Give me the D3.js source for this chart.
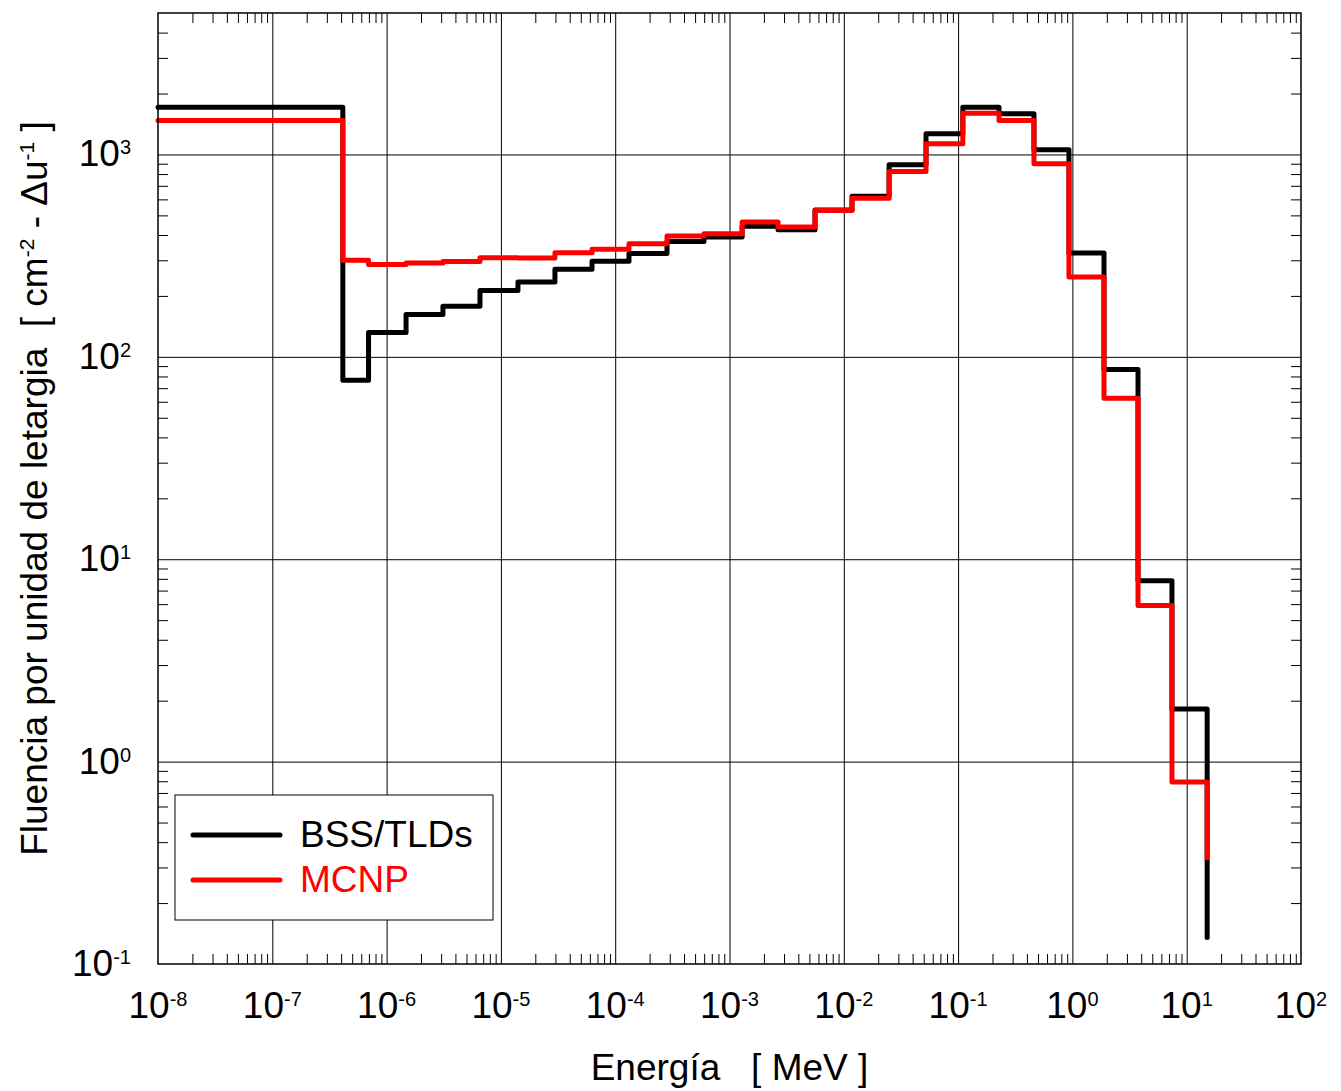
<!DOCTYPE html>
<html>
<head>
<meta charset="utf-8">
<title>Fluencia por unidad de letargia</title>
<script src="https://cdn.jsdelivr.net/npm/d3@7"></script>
<style>
  body { margin: 0; background: #fff; }
  text { font-family: "Liberation Sans", Arial, sans-serif; white-space: pre; }
</style>
</head>
<body>
<svg id="chart"></svg>
<script>
// ===========================
// 1. Data
// ===========================

// bin edges in MeV (25 bins -> 26 edges)
const energyEdges = [1e-8, 4.14e-7, 6.95e-7, 1.48e-6, 3.11e-6, 6.56e-6, 1.41e-5, 2.97e-5,
  6.27e-5, 1.32e-4, 2.84e-4, 5.98e-4, 1.29e-3, 2.66e-3, 5.6e-3, 1.18e-2, 2.49e-2,
  5.24e-2, 0.110, 0.228, 0.461, 0.933, 1.89, 3.75, 7.43, 15.1];

// fluence per bin, last value = where the final vertical drop ends
const bssValues = [1711, 76.7, 131.8, 161.8, 178, 213, 234, 271, 297, 324, 372, 391, 442,
  425, 532, 622, 890, 1265, 1711, 1588, 1055, 326, 86.7, 7.83, 1.82, 0.135];
const mcnpValues = [1472, 300, 286, 291, 296, 309, 308, 327, 340, 362, 395, 406, 464,
  438, 529, 608, 824, 1129, 1600, 1472, 899, 248, 62.4, 5.90, 0.793, 0.335];

const seriesNames = ["BSS/TLDs", "MCNP"];
const seriesColors = ["#000000", "#ff0000"];

// axis decades (exponents)
const xExponents = [-8, -7, -6, -5, -4, -3, -2, -1, 0, 1, 2];
const yExponents = [-1, 0, 1, 2, 3];

// ===========================
// 2. Layout
// ===========================
const W = 1341, H = 1091;
const plot = { left: 158, right: 1301, top: 13, bottom: 964 };
const font = "Liberation Sans, Arial, sans-serif";

const svg = d3.select("#chart")
  .attr("width", W)
  .attr("height", H);

svg.append("rect").attr("width", W).attr("height", H).attr("fill", "#fff");

const x = d3.scaleLog()
  .domain([1e-8, 1e2])
  .range([plot.left, plot.right]);

const y = d3.scaleLog()
  .domain([0.1, 5000])
  .range([plot.bottom, plot.top]);

const plotW = plot.right - plot.left,
      plotH = plot.bottom - plot.top;

// major / minor tick values
const xMajor = xExponents.map(e => Math.pow(10, e));
const yMajor = yExponents.map(e => Math.pow(10, e));
const minorOf = (majors, domain) => {
  const out = [];
  majors.forEach(m => {
    for (let k = 2; k <= 9; k++) {
      const v = m * k;
      if (v > domain[0] && v < domain[1]) out.push(v);
    }
  });
  return out;
};
const xMinor = minorOf(xMajor, x.domain());
const yMinor = minorOf([0.1, 1, 10, 100, 1000], y.domain());

// ===========================
// 3. Grid and ticks
// ===========================
const clean = g => {
  g.select(".domain").remove();
  g.selectAll(".tick line").attr("stroke", "#000").attr("stroke-width", 1);
};

// vertical gridlines
svg.append("g")
  .attr("transform", `translate(0,${plot.bottom})`)
  .call(d3.axisBottom(x).tickValues(xMajor.slice(1, -1)).tickSize(-plotH).tickFormat(""))
  .call(clean);

// horizontal gridlines
svg.append("g")
  .attr("transform", `translate(${plot.left},0)`)
  .call(d3.axisLeft(y).tickValues(yMajor.slice(1)).tickSize(-plotW).tickFormat(""))
  .call(clean);

// minor ticks, inward on all four sides
svg.append("g")
  .attr("transform", `translate(0,${plot.bottom})`)
  .call(d3.axisBottom(x).tickValues(xMinor).tickSize(-10).tickFormat(""))
  .call(clean);
svg.append("g")
  .attr("transform", `translate(0,${plot.top})`)
  .call(d3.axisTop(x).tickValues(xMinor).tickSize(-10).tickFormat(""))
  .call(clean);
svg.append("g")
  .attr("transform", `translate(${plot.left},0)`)
  .call(d3.axisLeft(y).tickValues(yMinor).tickSize(-10).tickFormat(""))
  .call(clean);
svg.append("g")
  .attr("transform", `translate(${plot.right},0)`)
  .call(d3.axisRight(y).tickValues(yMinor).tickSize(-10).tickFormat(""))
  .call(clean);

// ===========================
// 4. Step lines
// ===========================
const line = d3.line()
  .x(d => x(d[0]))
  .y(d => y(d[1]))
  .curve(d3.curveStepAfter);

[bssValues, mcnpValues].forEach((vals, i) => {
  const pts = energyEdges.map((e, j) => [e, vals[j]]);
  svg.append("path")
    .attr("d", line(pts))
    .attr("fill", "none")
    .attr("stroke", seriesColors[i])
    .attr("stroke-width", 5)
    .attr("stroke-linejoin", "round")
    .attr("stroke-linecap", "round");
});

// plot frame
svg.append("rect")
  .attr("x", plot.left)
  .attr("y", plot.top)
  .attr("width", plotW)
  .attr("height", plotH)
  .attr("fill", "none")
  .attr("stroke", "#000")
  .attr("stroke-width", 1.5);

// ===========================
// 5. Tick labels (10^n)
// ===========================
const powLabel = (sel, exp) => {
  sel.append("tspan").text("10");
  sel.append("tspan")
    .attr("dy", -12)
    .style("font-size", "20px")
    .text(exp);
};

xExponents.forEach(e => {
  const t = svg.append("text")
    .attr("x", x(Math.pow(10, e)))
    .attr("y", plot.bottom + 54)
    .attr("text-anchor", "middle")
    .style("font-size", "37px");
  powLabel(t, e);
});

yExponents.forEach(e => {
  const t = svg.append("text")
    .attr("x", plot.left - 27)
    .attr("y", y(Math.pow(10, e)) + 12)
    .attr("text-anchor", "end")
    .style("font-size", "37px");
  powLabel(t, e);
});

// ===========================
// 6. Axis titles
// ===========================
svg.append("text")
  .attr("x", (plot.left + plot.right) / 2)
  .attr("y", 1080)
  .attr("text-anchor", "middle")
  .style("font-size", "37px")
  .text("Energía   [ MeV ]");

const yTitle = svg.append("text")
  .attr("transform", `translate(47,${(plot.top + plot.bottom) / 2}) rotate(-90)`)
  .attr("text-anchor", "middle")
  .style("font-size", "37px");
yTitle.append("tspan").text("Fluencia por unidad de letargia  [ cm");
yTitle.append("tspan").attr("dy", -13).style("font-size", "21px").text("-2");
yTitle.append("tspan").attr("dy", 13).text(" - Δu");
yTitle.append("tspan").attr("dy", -13).style("font-size", "21px").text("-1");
yTitle.append("tspan").attr("dy", 13).text(" ]");

// ===========================
// 7. Legend
// ===========================
const legend = svg.append("g");
legend.append("rect")
  .attr("x", 175)
  .attr("y", 795)
  .attr("width", 318)
  .attr("height", 125)
  .attr("fill", "#fff")
  .attr("stroke", "#000")
  .attr("stroke-width", 1);

seriesNames.forEach((name, i) => {
  const ly = 835 + i * 45;
  legend.append("line")
    .attr("x1", 193).attr("x2", 280)
    .attr("y1", ly).attr("y2", ly)
    .attr("stroke", seriesColors[i])
    .attr("stroke-width", 5)
    .attr("stroke-linecap", "round");
  legend.append("text")
    .attr("x", 300)
    .attr("y", ly + 12)
    .attr("fill", seriesColors[i])
    .style("font-size", "37px")
    .text(name);
});
</script>
</body>
</html>
